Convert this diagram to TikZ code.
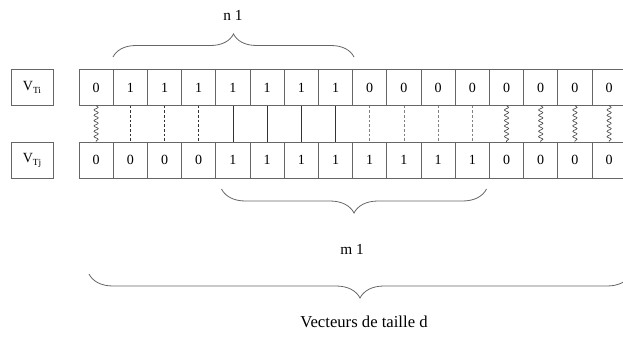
\documentclass[tikz,border=0pt]{standalone}
\usepackage{fontspec}
\setmainfont{Liberation Serif}
\usetikzlibrary{decorations.pathmorphing,decorations.pathreplacing}
\begin{document}
\begin{tikzpicture}[x=0.75pt,y=-0.75pt,
  cell/.style={draw=black!60, line width=0.6pt, minimum width=25.65pt, minimum height=27pt, inner sep=0pt, outer sep=0pt, font=\fontsize{10.5}{12}\selectfont},
  lab/.style={cell, minimum width=31.5pt},
  wavy/.style={draw=black!70, line width=0.5pt, decorate, decoration={snake, segment length=4pt, amplitude=1.6pt}},
  dashdark/.style={draw=black!80, line width=0.5pt, dash pattern=on 2pt off 1.5pt},
  dashlight/.style={draw=black!50, line width=0.5pt, dash pattern=on 2pt off 1.5pt},
  solidline/.style={draw=black!80, line width=0.5pt},
  bracestyle/.style={draw=black!60, line width=0.6pt, decorate},
  txt/.style={font=\fontsize{11.5}{13}\selectfont, inner sep=0pt}]
\useasboundingbox (0,0) rectangle (623,336);
\begin{scope}
\clip (0,0) rectangle (623,336);
\node[lab] (li) at (32,87.6) {V\raisebox{-0.45ex}{\fontsize{7}{8}\selectfont Ti}};
\node[lab] (lj) at (32,160.3) {V\raisebox{-0.45ex}{\fontsize{7}{8}\selectfont Tj}};
\foreach \i/\a/\b in {0/0/0,1/1/0,2/1/0,3/1/0,4/1/1,5/1/1,6/1/1,7/1/1,8/0/1,9/0/1,10/0/1,11/0/1,12/0/0,13/0/0,14/0/0,15/0/0}{
  \node[cell] (t\i) at ({79+34.2*(\i+0.5)},87.6) {\a};
  \node[cell] (b\i) at ({79+34.2*(\i+0.5)},160.3) {\b};
}
\foreach \i in {0,12,13,14,15} \draw[wavy] (t\i.south) -- (b\i.north);
\foreach \i in {1,2,3} \draw[dashdark] (t\i.south) -- (b\i.north);
\foreach \i in {4,5,6,7} \draw[solidline] (t\i.south) -- (b\i.north);
\foreach \i in {8,9,10,11} \draw[dashlight] (t\i.south) -- (b\i.north);
% braces
\coordinate (n0) at (113,57);
\coordinate (n1) at (354,57);
\draw[bracestyle, decoration={brace, amplitude=17.25pt}] (n0) -- (n1);
\node[txt] (nl) at (233,15) {n 1};
\coordinate (m0) at (221.5,189);
\coordinate (m1) at (486.5,189);
\draw[bracestyle, decoration={brace, mirror, amplitude=18pt}] (m0) -- (m1);
\node[txt] (ml) at (352,249) {m 1};
\coordinate (d0) at (89,274);
\coordinate (d1) at (631,274);
\draw[bracestyle, decoration={brace, mirror, amplitude=18pt}] (d0) -- (d1);
\node[txt, font=\fontsize{12.5}{14}\selectfont] (dl) at (364,322) {Vecteurs de taille d};
\end{scope}
\end{tikzpicture}
\end{document}
